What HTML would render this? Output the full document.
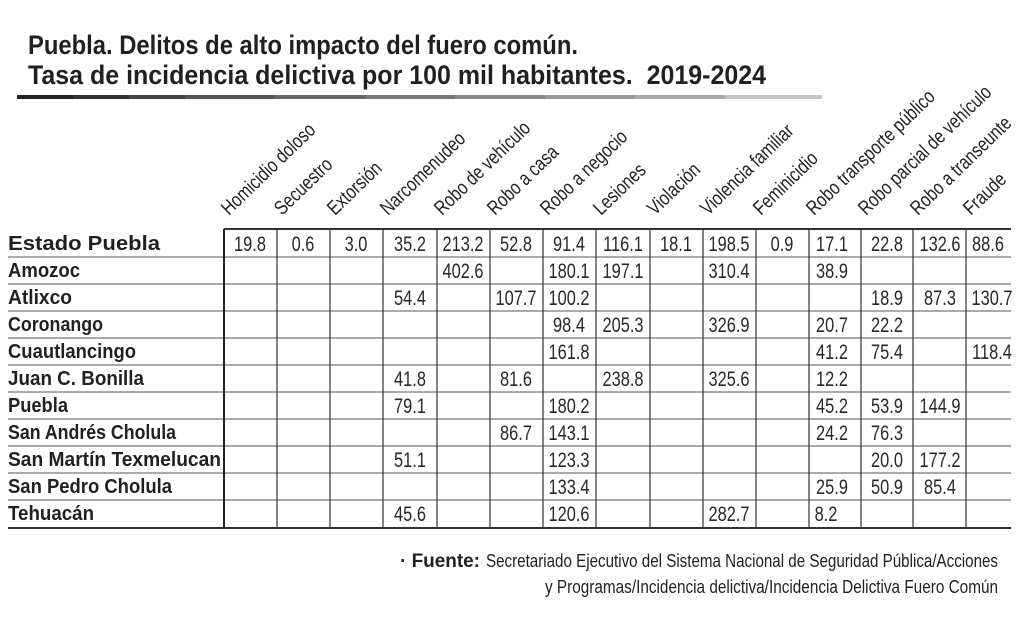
<!DOCTYPE html>
<html><head><meta charset="utf-8"><style>
html,body{margin:0;padding:0;background:#fff;}
svg{display:block;}
</style></head><body>
<svg width="1024" height="619" viewBox="0 0 1024 619" xmlns="http://www.w3.org/2000/svg" font-family="Liberation Sans, sans-serif">
<rect width="1024" height="619" fill="#fff"/>
<text x="28" y="54" font-size="27" font-weight="bold" fill="#231f20" textLength="550" lengthAdjust="spacingAndGlyphs">Puebla. Delitos de alto impacto del fuero común.</text>
<text x="28" y="84" font-size="27" font-weight="bold" fill="#231f20" textLength="738" lengthAdjust="spacingAndGlyphs">Tasa de incidencia delictiva por 100 mil habitantes.&#160; 2019-2024</text>
<g>
<rect x="17" y="95" width="56" height="4" fill="#222"/>
<rect x="73" y="95" width="56" height="4" fill="#333"/>
<rect x="129" y="95" width="56" height="4" fill="#444"/>
<rect x="185" y="95" width="90" height="4" fill="#555"/>
<rect x="275" y="95" width="90" height="4" fill="#666"/>
<rect x="365" y="95" width="90" height="4" fill="#777"/>
<rect x="455" y="95" width="90" height="4" fill="#888"/>
<rect x="545" y="95" width="90" height="4" fill="#999"/>
<rect x="635" y="95" width="90" height="4" fill="#aaa"/>
<rect x="725" y="95" width="97" height="4" fill="#c4c4c4"/>
</g>
<g font-size="20" fill="#231f20">
<text transform="translate(229,216) rotate(-44) scale(0.8,1)">Homicidio doloso</text>
<text transform="translate(282,216) rotate(-44) scale(0.8,1)">Secuestro</text>
<text transform="translate(335,216) rotate(-44) scale(0.8,1)">Extorsión</text>
<text transform="translate(388,216) rotate(-44) scale(0.8,1)">Narcomenudeo</text>
<text transform="translate(442,216) rotate(-44) scale(0.8,1)">Robo de vehículo</text>
<text transform="translate(495,216) rotate(-44) scale(0.8,1)">Robo a casa</text>
<text transform="translate(548,216) rotate(-44) scale(0.8,1)">Robo a negocio</text>
<text transform="translate(601,216) rotate(-44) scale(0.8,1)">Lesiones</text>
<text transform="translate(655,216) rotate(-44) scale(0.8,1)">Violación</text>
<text transform="translate(708,216) rotate(-44) scale(0.8,1)">Violencia familiar</text>
<text transform="translate(761,216) rotate(-44) scale(0.8,1)">Feminicidio</text>
<text transform="translate(814,216) rotate(-44) scale(0.8,1)">Robo transporte público</text>
<text transform="translate(866,216) rotate(-44) scale(0.8,1)">Robo parcial de vehículo</text>
<text transform="translate(918,216) rotate(-44) scale(0.8,1)">Robo a transeunte</text>
<text transform="translate(971,216) rotate(-44) scale(0.8,1)">Fraude</text>
</g>
<g stroke="#555" stroke-width="1">
<line x1="8" y1="257" x2="1011" y2="257"/>
<line x1="8" y1="284" x2="1011" y2="284"/>
<line x1="8" y1="311" x2="1011" y2="311"/>
<line x1="8" y1="338" x2="1011" y2="338"/>
<line x1="8" y1="365" x2="1011" y2="365"/>
<line x1="8" y1="392" x2="1011" y2="392"/>
<line x1="8" y1="419" x2="1011" y2="419"/>
<line x1="8" y1="446" x2="1011" y2="446"/>
<line x1="8" y1="473" x2="1011" y2="473"/>
<line x1="8" y1="500" x2="1011" y2="500"/>
</g>
<line x1="224" y1="229" x2="1011" y2="229" stroke="#333" stroke-width="2"/>
<line x1="8" y1="528" x2="1011" y2="528" stroke="#333" stroke-width="2"/>
<g stroke="#333" stroke-width="1.2">
<line x1="277" y1="229" x2="277" y2="528"/><line x1="330" y1="229" x2="330" y2="528"/>
<line x1="383" y1="229" x2="383" y2="528"/><line x1="437" y1="229" x2="437" y2="528"/>
<line x1="490" y1="229" x2="490" y2="528"/><line x1="543" y1="229" x2="543" y2="528"/>
<line x1="596" y1="229" x2="596" y2="528"/><line x1="650" y1="229" x2="650" y2="528"/>
<line x1="703" y1="229" x2="703" y2="528"/><line x1="756" y1="229" x2="756" y2="528"/>
<line x1="809" y1="229" x2="809" y2="528"/><line x1="861" y1="229" x2="861" y2="528"/>
<line x1="913" y1="229" x2="913" y2="528"/><line x1="966" y1="229" x2="966" y2="528"/>
</g>
<line x1="224" y1="229" x2="224" y2="528" stroke="#222" stroke-width="2"/>
<g font-size="20" font-weight="bold" fill="#231f20">
<text x="8" y="250" textLength="152" lengthAdjust="spacingAndGlyphs">Estado Puebla</text>
<text x="8" y="277" textLength="72" lengthAdjust="spacingAndGlyphs">Amozoc</text>
<text x="8" y="304" textLength="64" lengthAdjust="spacingAndGlyphs">Atlixco</text>
<text x="8" y="331" textLength="95" lengthAdjust="spacingAndGlyphs">Coronango</text>
<text x="8" y="358" textLength="128" lengthAdjust="spacingAndGlyphs">Cuautlancingo</text>
<text x="8" y="385" textLength="136" lengthAdjust="spacingAndGlyphs">Juan C. Bonilla</text>
<text x="8" y="412" textLength="60" lengthAdjust="spacingAndGlyphs">Puebla</text>
<text x="8" y="439" textLength="168" lengthAdjust="spacingAndGlyphs">San Andrés Cholula</text>
<text x="8" y="466" textLength="213" lengthAdjust="spacingAndGlyphs">San Martín Texmelucan</text>
<text x="8" y="493" textLength="164" lengthAdjust="spacingAndGlyphs">San Pedro Cholula</text>
<text x="8" y="520" textLength="86" lengthAdjust="spacingAndGlyphs">Tehuacán</text>
</g>
<g font-size="21" fill="#2a2728" text-anchor="middle">
<g transform="translate(0,251)">
<text transform="translate(250,0) scale(0.78,1)">19.8</text>
<text transform="translate(303,0) scale(0.78,1)">0.6</text>
<text transform="translate(356,0) scale(0.78,1)">3.0</text>
<text transform="translate(410,0) scale(0.78,1)">35.2</text>
<text transform="translate(463,0) scale(0.78,1)">213.2</text>
<text transform="translate(516,0) scale(0.78,1)">52.8</text>
<text transform="translate(569,0) scale(0.78,1)">91.4</text>
<text transform="translate(623,0) scale(0.78,1)">116.1</text>
<text transform="translate(676,0) scale(0.78,1)">18.1</text>
<text transform="translate(729,0) scale(0.78,1)">198.5</text>
<text transform="translate(782,0) scale(0.78,1)">0.9</text>
<text transform="translate(832,0) scale(0.78,1)">17.1</text>
<text transform="translate(887,0) scale(0.78,1)">22.8</text>
<text transform="translate(940,0) scale(0.78,1)">132.6</text>
<text transform="translate(988,0) scale(0.78,1)">88.6</text>
</g>
<g transform="translate(0,278)">
<text transform="translate(463,0) scale(0.78,1)">402.6</text>
<text transform="translate(569,0) scale(0.78,1)">180.1</text>
<text transform="translate(623,0) scale(0.78,1)">197.1</text>
<text transform="translate(729,0) scale(0.78,1)">310.4</text>
<text transform="translate(832,0) scale(0.78,1)">38.9</text>
</g>
<g transform="translate(0,305)">
<text transform="translate(410,0) scale(0.78,1)">54.4</text>
<text transform="translate(516,0) scale(0.78,1)">107.7</text>
<text transform="translate(569,0) scale(0.78,1)">100.2</text>
<text transform="translate(887,0) scale(0.78,1)">18.9</text>
<text transform="translate(940,0) scale(0.78,1)">87.3</text>
<text transform="translate(992,0) scale(0.78,1)">130.7</text>
</g>
<g transform="translate(0,332)">
<text transform="translate(569,0) scale(0.78,1)">98.4</text>
<text transform="translate(623,0) scale(0.78,1)">205.3</text>
<text transform="translate(729,0) scale(0.78,1)">326.9</text>
<text transform="translate(832,0) scale(0.78,1)">20.7</text>
<text transform="translate(887,0) scale(0.78,1)">22.2</text>
</g>
<g transform="translate(0,359)">
<text transform="translate(569,0) scale(0.78,1)">161.8</text>
<text transform="translate(832,0) scale(0.78,1)">41.2</text>
<text transform="translate(887,0) scale(0.78,1)">75.4</text>
<text transform="translate(992,0) scale(0.78,1)">118.4</text>
</g>
<g transform="translate(0,386)">
<text transform="translate(410,0) scale(0.78,1)">41.8</text>
<text transform="translate(516,0) scale(0.78,1)">81.6</text>
<text transform="translate(623,0) scale(0.78,1)">238.8</text>
<text transform="translate(729,0) scale(0.78,1)">325.6</text>
<text transform="translate(832,0) scale(0.78,1)">12.2</text>
</g>
<g transform="translate(0,413)">
<text transform="translate(410,0) scale(0.78,1)">79.1</text>
<text transform="translate(569,0) scale(0.78,1)">180.2</text>
<text transform="translate(832,0) scale(0.78,1)">45.2</text>
<text transform="translate(887,0) scale(0.78,1)">53.9</text>
<text transform="translate(940,0) scale(0.78,1)">144.9</text>
</g>
<g transform="translate(0,440)">
<text transform="translate(516,0) scale(0.78,1)">86.7</text>
<text transform="translate(569,0) scale(0.78,1)">143.1</text>
<text transform="translate(832,0) scale(0.78,1)">24.2</text>
<text transform="translate(887,0) scale(0.78,1)">76.3</text>
</g>
<g transform="translate(0,467)">
<text transform="translate(410,0) scale(0.78,1)">51.1</text>
<text transform="translate(569,0) scale(0.78,1)">123.3</text>
<text transform="translate(887,0) scale(0.78,1)">20.0</text>
<text transform="translate(940,0) scale(0.78,1)">177.2</text>
</g>
<g transform="translate(0,494)">
<text transform="translate(569,0) scale(0.78,1)">133.4</text>
<text transform="translate(832,0) scale(0.78,1)">25.9</text>
<text transform="translate(887,0) scale(0.78,1)">50.9</text>
<text transform="translate(940,0) scale(0.78,1)">85.4</text>
</g>
<g transform="translate(0,521)">
<text transform="translate(410,0) scale(0.78,1)">45.6</text>
<text transform="translate(569,0) scale(0.78,1)">120.6</text>
<text transform="translate(729,0) scale(0.78,1)">282.7</text>
<text transform="translate(826,0) scale(0.78,1)">8.2</text>
</g>
</g>
<text x="400" y="567" font-size="19" font-weight="bold" fill="#231f20" textLength="80" lengthAdjust="spacingAndGlyphs">· Fuente:</text>
<text x="486" y="567" font-size="18" fill="#231f20" textLength="512" lengthAdjust="spacingAndGlyphs">Secretariado Ejecutivo del Sistema Nacional de Seguridad Pública/Acciones</text>
<text x="545" y="593" font-size="18" fill="#231f20" textLength="453" lengthAdjust="spacingAndGlyphs">y Programas/Incidencia delictiva/Incidencia Delictiva Fuero Común</text>
</svg>
</body></html>
